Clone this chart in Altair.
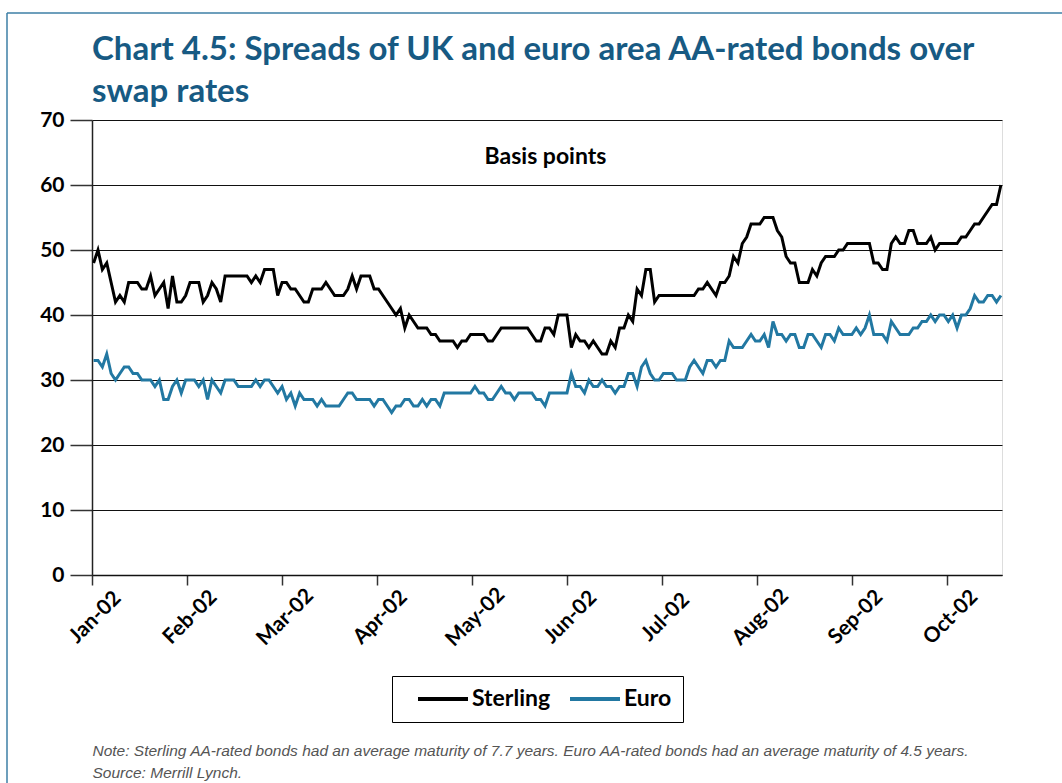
import altair as alt
import pandas as pd

# ---------------- data ----------------
MONTHS = ["Jan-02", "Feb-02", "Mar-02", "Apr-02", "May-02",
          "Jun-02", "Jul-02", "Aug-02", "Sep-02", "Oct-02"]

SERIES = ["Sterling", "Euro"]
SERIES_COLORS = ["#000000", "#2278a2"]

STERLING = [
    48, 50, 47, 48, 45, 42, 43, 42, 45, 45,
    45, 44, 44, 46, 43, 44, 45, 41, 46, 42,
    42, 43, 45, 45, 45, 42, 43, 45, 44, 42,
    46, 46, 46, 46, 46, 46, 45, 46, 45, 47,
    47, 47, 43, 45, 45, 44, 44, 43, 42, 42,
    44, 44, 44, 45, 44, 43, 43, 43, 44, 46,
    44, 46, 46, 46, 44, 44, 43, 42, 41, 40,
    41, 38, 40, 39, 38, 38, 38, 37, 37, 36,
    36, 36, 36, 35, 36, 36, 37, 37, 37, 37,
    36, 36, 37, 38, 38, 38, 38, 38, 38, 38,
    37, 36, 36, 38, 38, 37, 40, 40, 40, 35,
    37, 36, 36, 35, 36, 35, 34, 34, 36, 35,
    38, 38, 40, 39, 44, 43, 47, 47, 42, 43,
    43, 43, 43, 43, 43, 43, 43, 43, 44, 44,
    45, 44, 43, 45, 45, 46, 49, 48, 51, 52,
    54, 54, 54, 55, 55, 55, 53, 52, 49, 48,
    48, 45, 45, 45, 47, 46, 48, 49, 49, 49,
    50, 50, 51, 51, 51, 51, 51, 51, 48, 48,
    47, 47, 51, 52, 51, 51, 53, 53, 51, 51,
    51, 52, 50, 51, 51, 51, 51, 51, 52, 52,
    53, 54, 54, 55, 56, 57, 57, 60,
]

EURO = [
    33, 33, 32, 34, 31, 30, 31, 32, 32, 31,
    31, 30, 30, 30, 29, 30, 27, 27, 29, 30,
    28, 30, 30, 30, 29, 30, 27, 30, 29, 28,
    30, 30, 30, 29, 29, 29, 29, 30, 29, 30,
    30, 29, 28, 29, 27, 28, 26, 28, 27, 27,
    27, 26, 27, 26, 26, 26, 26, 27, 28, 28,
    27, 27, 27, 27, 26, 27, 27, 26, 25, 26,
    26, 27, 27, 26, 26, 27, 26, 27, 27, 26,
    28, 28, 28, 28, 28, 28, 28, 29, 28, 28,
    27, 27, 28, 29, 28, 28, 27, 28, 28, 28,
    28, 27, 27, 26, 28, 28, 28, 28, 28, 31,
    29, 29, 28, 30, 29, 29, 30, 29, 29, 28,
    29, 29, 31, 31, 29, 32, 33, 31, 30, 30,
    31, 31, 31, 30, 30, 30, 32, 33, 32, 31,
    33, 33, 32, 33, 33, 36, 35, 35, 35, 36,
    37, 36, 36, 37, 35, 39, 37, 37, 36, 37,
    37, 35, 35, 37, 37, 36, 35, 37, 37, 36,
    38, 37, 37, 37, 38, 37, 38, 40, 37, 37,
    37, 36, 39, 38, 37, 37, 37, 38, 38, 39,
    39, 40, 39, 40, 40, 39, 40, 38, 40, 40,
    41, 43, 42, 42, 43, 43, 42, 43,
]

Y_TICKS = [0, 10, 20, 30, 40, 50, 60, 70]

TITLE_LINES = ["Chart 4.5: Spreads of UK and euro area AA-rated bonds over",
               "swap rates"]
NOTE_LINES = ["Note: Sterling AA-rated bonds had an average maturity of 7.7 years. "
              "Euro AA-rated bonds had an average maturity of 4.5 years.",
              "Source: Merrill Lynch."]
UNIT_LABEL = "Basis points"

# category-style axis: trading days, months evenly spaced
FIRST_TICK = -0.365
MONTH_SPAN = 21.686
X_END = 207.25

# ---------------- table ----------------
records = []
for name, values in zip(SERIES, [STERLING, EURO]):
    for i, v in enumerate(values):
        records.append({"day": i, "series": name, "bp": v})
df = pd.DataFrame(records)

tick_values = [FIRST_TICK + MONTH_SPAN * k for k in range(len(MONTHS))]
label_expr = ("[" + ",".join(f"'{m}'" for m in MONTHS) + "]"
              + f"[round((datum.value - ({FIRST_TICK})) / {MONTH_SPAN})]")

LABEL_FONT = "Lato"
NOTE_FONT = "Liberation Sans"
TITLE_COLOR = "#175a83"
PAD = "\u00a0" * 4  # invisible padding so the legend box reaches the reference width

x_enc = alt.X(
    "day:Q",
    scale=alt.Scale(domain=[FIRST_TICK, X_END], nice=False, zero=False),
    axis=alt.Axis(
        values=tick_values, labelExpr=label_expr, grid=False,
        tickSize=10, tickColor="#333333", tickWidth=1.5,
        domainColor="#111111", domainWidth=1.5,
        labelAngle=-45, labelAlign="center", labelBaseline="middle",
        labelPadding=32, labelOffset=3,
        labelFont=LABEL_FONT, labelFontSize=21, labelFontWeight="bold",
        labelColor="#000000", labelOverlap=False, labelFlush=False,
        labelBound=False,
        title=NOTE_LINES, titleX=0, titleY=180, titleAlign="left",
        titleAnchor="start", titleBaseline="alphabetic",
        titleFont=NOTE_FONT, titleFontSize=15.5, titleFontStyle="italic",
        titleFontWeight="normal", titleColor="#555555", titleLineHeight=22,
    ),
)

y_enc = alt.Y(
    "bp:Q",
    scale=alt.Scale(domain=[0, 70], nice=False),
    axis=alt.Axis(
        values=Y_TICKS, grid=True, gridColor="#111111", gridWidth=1,
        tickSize=22, tickColor="#333333", tickWidth=1.5,
        domainColor="#222222", domainWidth=1.5,
        labelFont=LABEL_FONT, labelFontSize=21, labelFontWeight="bold",
        labelColor="#000000", labelPadding=6, title=None,
    ),
)

lines = alt.Chart(df).mark_line(strokeWidth=3).encode(
    x=x_enc,
    y=y_enc,
    color=alt.Color(
        "series:N",
        scale=alt.Scale(domain=SERIES, range=SERIES_COLORS),
        legend=alt.Legend(
            title=None, orient="none", legendX=300, legendY=556,
            direction="horizontal",
            symbolType="M-2.5,0H2.5", symbolSize=400,
            symbolStrokeWidth=4, symbolOffset=28, labelOffset=17,
            labelFont=LABEL_FONT, labelFontSize=23, labelFontWeight="bold",
            labelColor="#000000", columnPadding=4, padding=11,
            labelExpr=f"datum.label == 'Euro' ? 'Euro{PAD}' : datum.label",
            strokeColor="#000000", fillColor="#ffffff",
        ),
    ),
    order=alt.Order("day:Q"),
)

unit_text = alt.Chart(pd.DataFrame({"label": [UNIT_LABEL]})).mark_text(
    font=LABEL_FONT, fontSize=23, fontWeight="bold", color="#000000",
    align="center", baseline="middle",
).encode(
    x=alt.datum(103.1),
    y=alt.datum(64.3),
    text="label:N",
)

frame_df = pd.DataFrame({"edge": ["frame"]})
title_text = alt.Chart(frame_df).mark_text(
    text=TITLE_LINES, font=LABEL_FONT, fontSize=33, fontWeight="bold",
    color=TITLE_COLOR, align="left", baseline="alphabetic", lineHeight=42,
).encode(x=alt.value(0), y=alt.value(-60))

frame_top = alt.Chart(frame_df).mark_rule(color="#3d7fa6", strokeWidth=1.5).encode(
    x=alt.value(-85), x2=alt.value(975), y=alt.value(-107)
)
frame_left = alt.Chart(frame_df).mark_rule(color="#3d7fa6", strokeWidth=1.5).encode(
    x=alt.value(-85), y=alt.value(-107), y2=alt.value(670)
)

chart = alt.layer(frame_top, frame_left, title_text, lines, unit_text).properties(
    width=910,
    height=455,
    padding={"left": 92, "top": 120, "right": 60, "bottom": 208},
    autosize=alt.AutoSizeParams(type="none"),
).configure_view(
    stroke="#111111", strokeWidth=1.5
).configure(background="#ffffff")

chart.save("out.html", embed_options={"renderer": "svg", "actions": False})
